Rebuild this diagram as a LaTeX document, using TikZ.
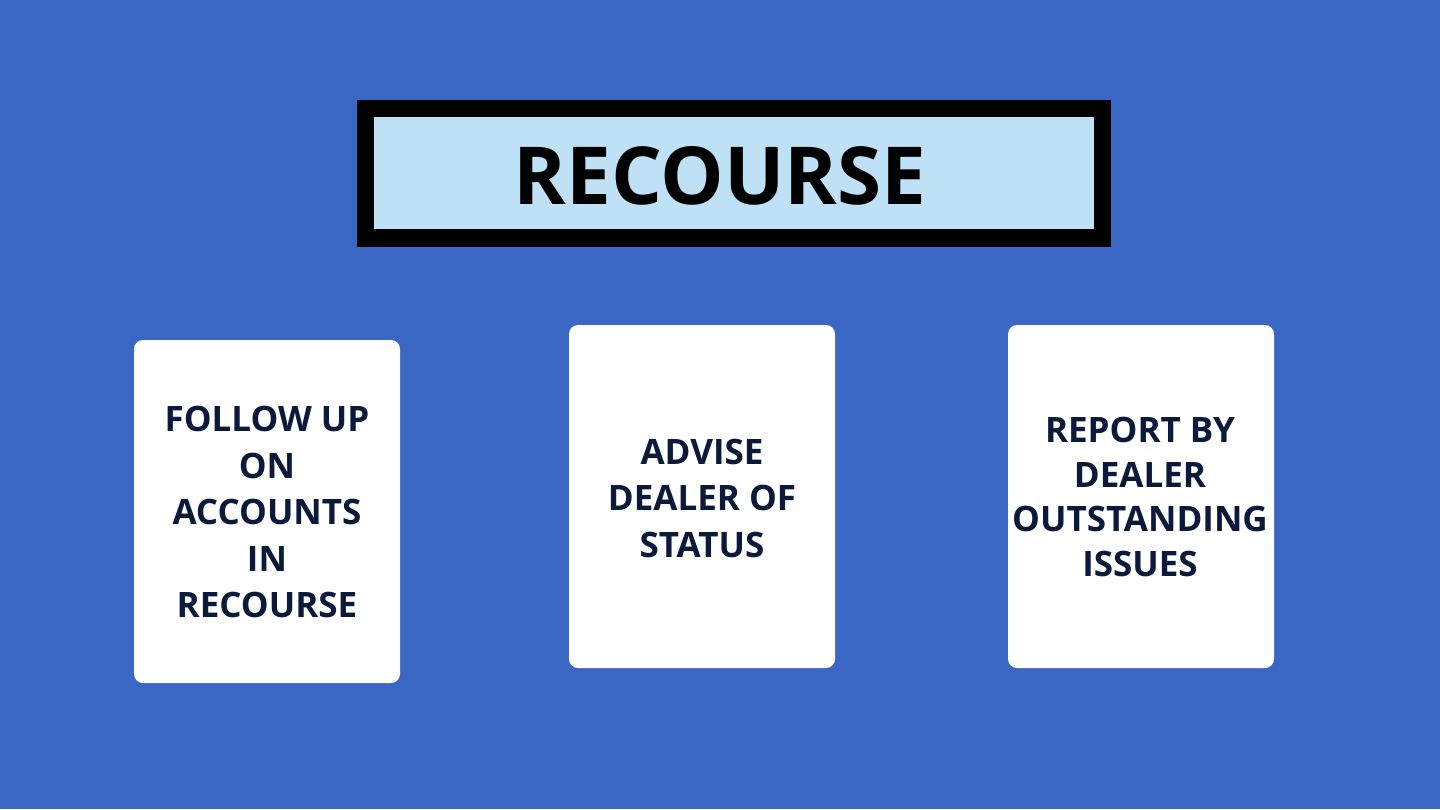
\documentclass[tikz,border=0pt]{standalone}
\usepackage{fontspec}
\setmainfont{Open Sans}
\definecolor{bg}{HTML}{3A66C4}
\definecolor{titlefill}{HTML}{BEE1F5}
\definecolor{navy}{HTML}{0B1A3A}
\tikzset{
  card/.style={fill=white, draw=none, rounded corners=9pt},
  cardtext/.style={text=navy, align=center, font=\fontsize{35}{46.5}\selectfont\bfseries, inner sep=0pt},
}
\begin{document}
\begin{tikzpicture}[x=1pt,y=-1pt]
\useasboundingbox (0,0) rectangle (1440,809);
\fill[bg] (0,0) rectangle (1440,809);
% title box
\fill[black] (357,100) rectangle (1111,247);
\fill[titlefill] (374,117) rectangle (1094,229);
\node[font=\fontsize{80}{90}\selectfont\bfseries, inner sep=0pt, text=black] (title) at (720,175.5) {RECOURSE};
% cards
\fill[card] (134,340) rectangle (400,683);
\fill[card] (569,325) rectangle (835,668);
\fill[card] (1008,325) rectangle (1274,668);
\node[cardtext] (c1) at (267,512) {FOLLOW UP\\ON\\ACCOUNTS\\IN\\RECOURSE};
\node[cardtext] (c2) at (702,498) {ADVISE\\DEALER OF\\STATUS};
\node[cardtext, font=\fontsize{35}{44.5}\selectfont\bfseries] (c3) at (1140,497) {REPORT BY\\DEALER\\OUTSTANDING\\ISSUES};
\end{tikzpicture}
\end{document}
